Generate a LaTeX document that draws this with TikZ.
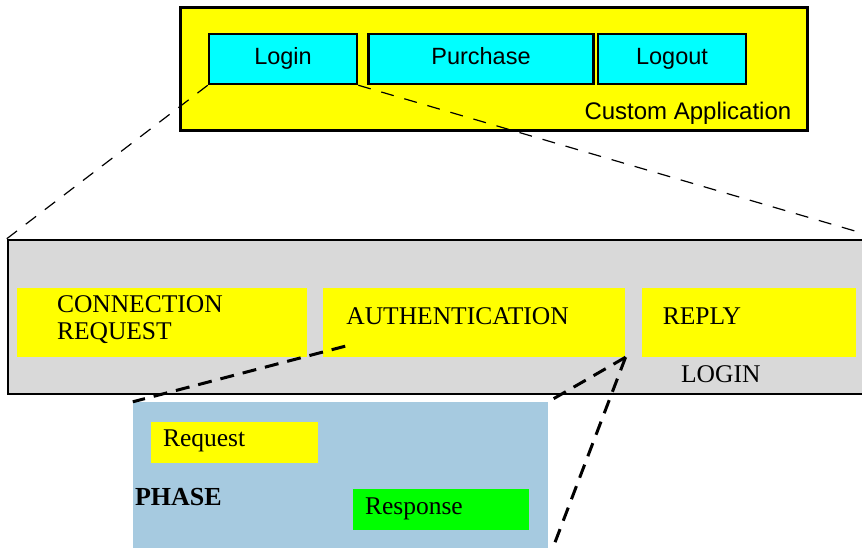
\documentclass[tikz,border=0pt]{standalone}
\usepackage{fontspec}
\setmainfont{Liberation Serif}
\setsansfont{Liberation Sans}
\usetikzlibrary{positioning, calc}

\definecolor{panelgrey}{RGB}{217,217,217}
\definecolor{phaseblue}{RGB}{166,202,224}
\definecolor{appyellow}{RGB}{255,255,0}
\definecolor{funccyan}{RGB}{0,255,255}
\definecolor{respgreen}{RGB}{0,255,0}

\begin{document}
\begin{tikzpicture}[
    x=1pt, y=1pt,
    app/.style={rectangle, draw, line width=3pt, fill=appyellow, minimum width=627pt, minimum height=123pt},
    func/.style={rectangle, draw, line width=2.5pt, fill=funccyan, minimum width=148pt, minimum height=50pt, text height=17pt, text depth=5pt, font=\sffamily\fontsize{23.5}{28}\selectfont},
    stage/.style={rectangle, fill=appyellow, minimum height=69pt},
    msg/.style={rectangle, minimum height=41pt},
    lbl/.style={inner sep=0pt, align=left, font=\fontsize{25.5}{27}\selectfont},
    thinzoom/.style={line width=1.2pt, dash pattern=on 13pt off 11pt},
    thickzoom/.style={line width=3pt, dash pattern=on 14pt off 9pt}
]
\clip (0,0) rectangle (862,548);

% Custom application
\node[app] (app) at (493.5,478.5) {};
\node[func] (login) at (283,489) {Login};
\node[func, right=9pt of login, minimum width=225pt] (purchase) {Purchase};
\node[func, right=2pt of purchase] (logout) {Logout};
\node[anchor=base east, inner sep=0pt, font=\sffamily\fontsize{24}{28}\selectfont] (appname) at ($(app.south east)+(-17,13)$) {Custom Application};

% Login stages
\node[rectangle, draw, line width=2.5pt, fill=panelgrey, minimum width=872pt, minimum height=154pt] (flow) at (444,231) {};
\node[stage, minimum width=290pt] (connreq) at (162,225.5) {};
\node[stage, right=16pt of connreq, minimum width=302pt] (auth) {};
\node[stage, right=16pt of auth, minimum width=214pt] (reply) {};
\node[lbl, anchor=west] (conntxt) at ($(connreq.west)+(40,3)$) {CONNECTION\\REQUEST};
\node[lbl, anchor=west] (authtxt) at ($(auth.west)+(23,6.5)$) {AUTHENTICATION};
\node[lbl, anchor=west] (replytxt) at ($(reply.west)+(21,6.5)$) {REPLY};
\node[lbl, below=8pt of reply, xshift=-28pt] (logintxt) {LOGIN};

% Authentication phase
\node[rectangle, fill=phaseblue, minimum width=415pt, minimum height=158pt] (phase) at (340.5,67) {};
\node[msg, fill=appyellow, minimum width=167pt] (request) at (234.5,105.5) {};
\node[msg, fill=respgreen, minimum width=176pt] (response) at (441,38.5) {};
\node[lbl, anchor=west] (reqtxt) at ($(request.west)+(12,1.5)$) {Request};
\node[lbl, anchor=west] (resptxt) at ($(response.west)+(12,0.5)$) {Response};
\node[lbl, anchor=west, font=\bfseries\fontsize{26}{27}\selectfont] (phasetxt) at ($(phase.west)+(2,-16)$) {PHASE};

% Zoom lines
\coordinate (authin) at ($(auth.south west)+(22,11)$);
\draw[thinzoom] (login.south west) -- (flow.north west);
\draw[thinzoom] (login.south east) -- (flow.north east);
\draw[thickzoom] (authin) -- (phase.north west);
\draw[thickzoom] (auth.south east) -- (phase.north east);
\draw[thickzoom] (auth.south east) -- (phase.south east);

\end{tikzpicture}
\end{document}
